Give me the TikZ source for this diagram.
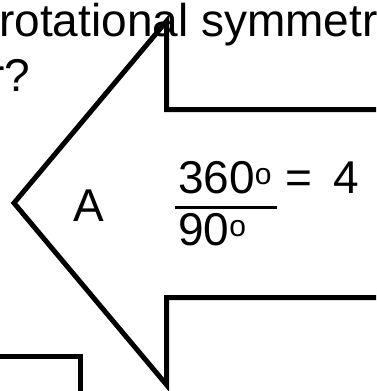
\documentclass[tikz,border=0pt]{standalone}
\usepackage{fontspec}
\setmainfont{Liberation Sans}
\begin{document}
\begin{tikzpicture}[x=1pt,y=-1pt,
  txt/.style={inner sep=0pt, anchor=base west, font=\fontsize{46}{55}\selectfont},
  outline/.style={line width=5pt, draw=black, miter limit=10},
  fracbar/.style={line width=3pt, draw=black}]
\newcommand{\supo}{\raisebox{9pt}{\fontsize{30}{30}\selectfont o}}
\useasboundingbox (0,0) rectangle (376,391);
\clip (0,0) rectangle (376,391);
% big left arrow outline
\draw[outline] (385,109.5) -- (166.7,109.5) -- (166.7,21) -- (14,203) -- (166.7,385) -- (166.7,297.5) -- (385,297.5);
% small box corner bottom left
\draw[outline] (-5,356) -- (80,356) -- (80,400);
% texts
\node[txt] (line1) at (-1,36) {rotational symmetr};
\node[txt] (line2) at (-11,91) {r?};
\node[txt] (A) at (73,221) {A};
\node[txt] (num) at (178,193) {360\supo};
\node[txt] (eq) at (285,193) {=};
\node[txt] (four) at (333,193) {4};
\node[txt] (den) at (178,245) {90\supo};
\draw[fracbar] (175,207.5) -- (277,207.5);
\end{tikzpicture}
\end{document}
